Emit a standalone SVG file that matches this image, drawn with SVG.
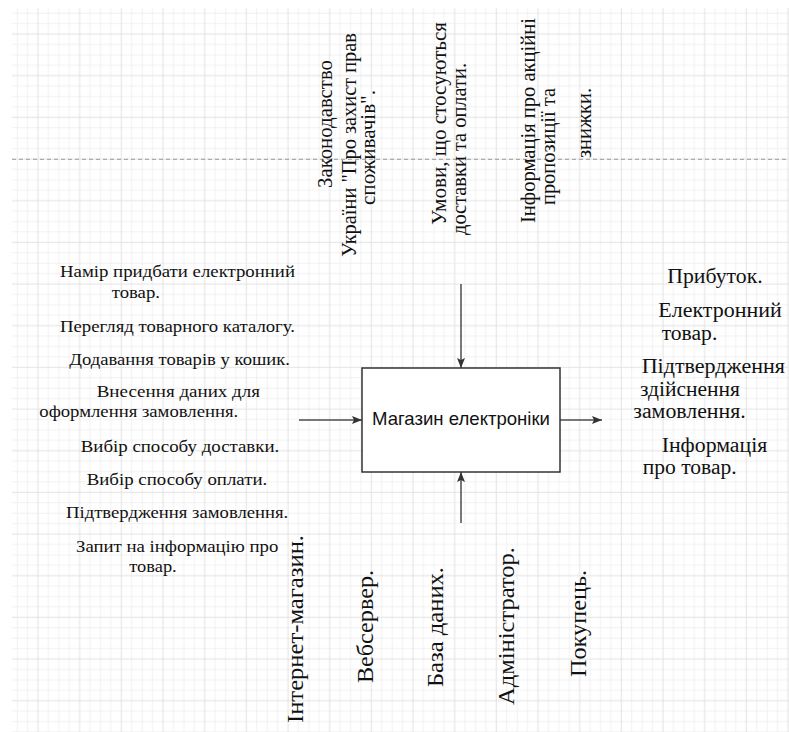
<svg xmlns="http://www.w3.org/2000/svg" width="789" height="732" viewBox="0 0 789 732">
<style>
.ser{font-family:"Liberation Serif","Times New Roman",serif;fill:#111;}
.l{font-size:17.5px;}
.r{font-size:20px;}
.t{font-size:20px;}
.b{font-size:23px;}
.box{fill:#fff;stroke:#333;stroke-width:1.5;}
.conn{stroke:#4d4d4d;stroke-width:1.5;fill:none;marker-end:url(#arr);}
</style>
<defs>
<pattern id="grid" patternUnits="userSpaceOnUse" x="32.79" y="28.79" width="41.667" height="41.667">
<path d="M15.625 0V41.667M26.042 0V41.667M36.458 0V41.667M0 15.625H41.667M0 26.042H41.667M0 36.458H41.667" stroke="#f1f1f1" stroke-width="1"/>
<path d="M5.208 0V41.667M0 5.208H41.667" stroke="#e2e2e2" stroke-width="1"/>
</pattern>
<marker id="arr" markerUnits="userSpaceOnUse" markerWidth="10" markerHeight="8" refX="10" refY="4" orient="auto">
<path d="M0,0 L10,4 L0,8 L2,4 z" fill="#333"/>
</marker>
</defs>
<rect width="789" height="732" fill="#fff"/>
<rect x="12" y="8" width="777" height="724" fill="url(#grid)"/>
<line x1="12" y1="159.3" x2="789" y2="159.3" stroke="#9a9a9a" stroke-width="1" stroke-dasharray="4 3"/>

<g id="connectors">
<line class="conn" x1="461" y1="284" x2="461" y2="368"/>
<line class="conn" x1="461" y1="523" x2="461" y2="472"/>
<line class="conn" x1="299" y1="420" x2="362" y2="420"/>
<line class="conn" x1="560" y1="420" x2="602" y2="420"/>
</g>

<g id="node-shop">
<rect class="box" x="362" y="368" width="198" height="104"/>
<text x="461" y="425" text-anchor="middle" font-family="'Liberation Sans',Arial,sans-serif" font-size="19" fill="#111" textLength="178" lengthAdjust="spacingAndGlyphs">Магазин електроніки</text>
</g>

<g id="controls" class="ser t">
<text transform="translate(331.5,188) rotate(-90)" textLength="128" lengthAdjust="spacingAndGlyphs">Законодавство</text>
<text transform="translate(356,257) rotate(-90)" textLength="224" lengthAdjust="spacingAndGlyphs">України "Про захист прав</text>
<text transform="translate(374.5,205) rotate(-90)" textLength="115" lengthAdjust="spacingAndGlyphs">споживачів".</text>
<text transform="translate(445.5,225) rotate(-90)" textLength="203" lengthAdjust="spacingAndGlyphs">Умови, що стосуються</text>
<text transform="translate(466,235) rotate(-90)" textLength="172" lengthAdjust="spacingAndGlyphs">доставки та оплати.</text>
<text transform="translate(535,223) rotate(-90)" textLength="205" lengthAdjust="spacingAndGlyphs">Інформація про акційні</text>
<text transform="translate(555,205) rotate(-90)" textLength="117" lengthAdjust="spacingAndGlyphs">пропозиції та</text>
<text transform="translate(591,158) rotate(-90)" textLength="70" lengthAdjust="spacingAndGlyphs">знижки.</text>
</g>

<g id="inputs" class="ser l">
<text x="60" y="277" textLength="235" lengthAdjust="spacingAndGlyphs">Намір придбати електронний</text>
<text x="111.7" y="298" textLength="48.3" lengthAdjust="spacingAndGlyphs">товар.</text>
<text x="60" y="331.7" textLength="235" lengthAdjust="spacingAndGlyphs">Перегляд товарного каталогу.</text>
<text x="69.3" y="365" textLength="220.7" lengthAdjust="spacingAndGlyphs">Додавання товарів у кошик.</text>
<text x="96.7" y="396.7" textLength="163.3" lengthAdjust="spacingAndGlyphs">Внесення даних для</text>
<text x="39.3" y="416.7" textLength="199" lengthAdjust="spacingAndGlyphs">оформлення замовлення.</text>
<text x="80.7" y="451.7" textLength="198.6" lengthAdjust="spacingAndGlyphs">Вибір способу доставки.</text>
<text x="86.7" y="485" textLength="180.6" lengthAdjust="spacingAndGlyphs">Вибір способу оплати.</text>
<text x="66" y="518.3" textLength="222.3" lengthAdjust="spacingAndGlyphs">Підтвердження замовлення.</text>
<text x="76" y="551.7" textLength="202.3" lengthAdjust="spacingAndGlyphs">Запит на інформацію про</text>
<text x="129.3" y="571.7" textLength="47.4" lengthAdjust="spacingAndGlyphs">товар.</text>
</g>

<g id="outputs" class="ser r">
<text x="667.3" y="283.3" textLength="95.4" lengthAdjust="spacingAndGlyphs">Прибуток.</text>
<text x="658.3" y="316.7" textLength="123.4" lengthAdjust="spacingAndGlyphs">Електронний</text>
<text x="661.7" y="340" textLength="55.6" lengthAdjust="spacingAndGlyphs">товар.</text>
<text x="641.7" y="373.3" textLength="143.3" lengthAdjust="spacingAndGlyphs">Підтвердження</text>
<text x="640" y="395.6" textLength="100" lengthAdjust="spacingAndGlyphs">здійснення</text>
<text x="633.3" y="417.8" textLength="112.4" lengthAdjust="spacingAndGlyphs">замовлення.</text>
<text x="661.7" y="451.7" textLength="105.6" lengthAdjust="spacingAndGlyphs">Інформація</text>
<text x="642.7" y="473.9" textLength="94" lengthAdjust="spacingAndGlyphs">про товар.</text>
</g>

<g id="mechanisms" class="ser b">
<text transform="translate(303,723) rotate(-90)" textLength="188" lengthAdjust="spacingAndGlyphs">Інтернет-магазин.</text>
<text transform="translate(373,683) rotate(-90)" textLength="113" lengthAdjust="spacingAndGlyphs">Вебсервер.</text>
<text transform="translate(443,687) rotate(-90)" textLength="120" lengthAdjust="spacingAndGlyphs">База даних.</text>
<text transform="translate(514,705) rotate(-90)" textLength="158" lengthAdjust="spacingAndGlyphs">Адміністратор.</text>
<text transform="translate(586,677) rotate(-90)" textLength="107" lengthAdjust="spacingAndGlyphs">Покупець.</text>
</g>
</svg>
